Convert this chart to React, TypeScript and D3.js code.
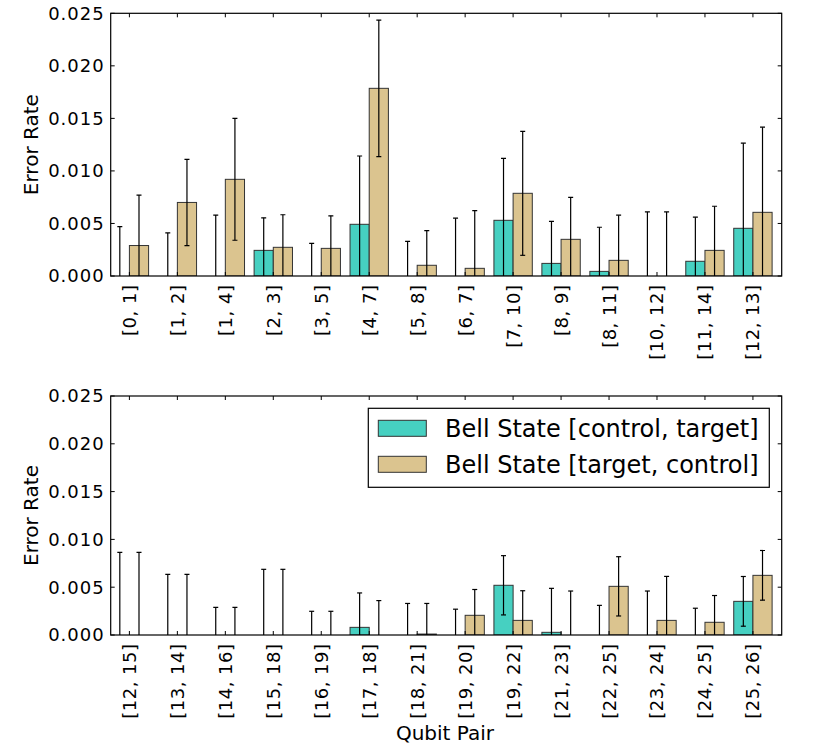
import * as d3 from "d3";

// qubit pairs, top and bottom panel
const pairsTop = ["[0, 1]", "[1, 2]", "[1, 4]", "[2, 3]", "[3, 5]", "[4, 7]", "[5, 8]", "[6, 7]", "[7, 10]", "[8, 9]", "[8, 11]", "[10, 12]", "[11, 14]", "[12, 13]"];
const ctTop = [0, 0, 0, 0.00244, 0, 0.00492, 0, 0, 0.0053, 0.0012, 0.00044, 0, 0.0014, 0.00454];
const ctErrTop = [0.0047, 0.0041, 0.0058, 0.0031, 0.0031, 0.0065, 0.0033, 0.0055, 0.0059, 0.004, 0.0042, 0.0061, 0.0042, 0.0081];
const tcTop = [0.0029, 0.007, 0.0092, 0.00273, 0.00263, 0.01786, 0.00102, 0.00073, 0.00787, 0.00349, 0.00149, 0, 0.00244, 0.00606];
const tcErrTop = [0.0048, 0.0041, 0.0058, 0.0031, 0.0031, 0.0065, 0.0033, 0.0055, 0.0059, 0.004, 0.0043, 0.0061, 0.0042, 0.0081];

const pairsBot = ["[12, 15]", "[13, 14]", "[14, 16]", "[15, 18]", "[16, 19]", "[17, 18]", "[18, 21]", "[19, 20]", "[19, 22]", "[21, 23]", "[22, 25]", "[23, 24]", "[24, 25]", "[25, 26]"];
const ctBot = [0, 0, 0, 0, 0, 0.0008, 0, 0, 0.0052, 0.00028, 0, 0, 0, 0.00352];
const ctErrBot = [0.00865, 0.00635, 0.00289, 0.00687, 0.00248, 0.0036, 0.0033, 0.0027, 0.0031, 0.0046, 0.0031, 0.0046, 0.0028, 0.0026];
const tcBot = [0, 0, 0, 0, 0, 0, 0.0001, 0.00206, 0.00153, 0, 0.00509, 0.00153, 0.00133, 0.00624];
const tcErrBot = [0.00865, 0.00635, 0.00289, 0.00687, 0.00248, 0.0036, 0.0032, 0.0027, 0.0031, 0.0046, 0.0031, 0.0046, 0.0028, 0.0026];

const yTicks = [0, 0.005, 0.01, 0.015, 0.02, 0.025];
const seriesNames = ["Bell State [control, target]", "Bell State [target, control]"];

const TEAL = "#46d0c1";
const TAN = "#dbc48f";
const FONT = "DejaVu Sans, sans-serif";
const BAR_W = 0.4;

interface PanelProps {
  id: string;
  top: number;
  bottom: number;
  pairs: string[];
  ct: number[];
  ctErr: number[];
  tc: number[];
  tcErr: number[];
  legend?: boolean;
}

function Panel({ id, top, bottom, pairs, ct, ctErr, tc, tcErr, legend }: PanelProps) {
  const left = 110.7;
  const right = 781.7;
  const x = d3.scaleLinear().domain([-0.39, 13.6]).range([left, right]);
  const y = d3.scaleLinear().domain([0, 0.025]).range([bottom, top]);
  const fmt = d3.format(".3f");

  const series = [
    { vals: ct, errs: ctErr, off: -BAR_W, color: TEAL },
    { vals: tc, errs: tcErr, off: 0, color: TAN },
  ];

  return (
    <g>
      <defs>
        <clipPath id={id}>
          <rect x={left} y={top} width={right - left} height={bottom - top} />
        </clipPath>
      </defs>
      <g clipPath={`url(#${id})`}>
        {series.map((s, k) =>
          pairs.map((_, i) => (
            <rect
              key={`b${k}-${i}`}
              x={x(i + s.off)}
              y={y(s.vals[i])}
              width={x(BAR_W) - x(0)}
              height={y(0) - y(s.vals[i])}
              fill={s.color}
              stroke="#333"
              strokeWidth={1}
            />
          ))
        )}
        {series.map((s, k) =>
          pairs.map((_, i) => {
            const cx = x(i + s.off + BAR_W / 2);
            const hi = y(s.vals[i] + s.errs[i]);
            const lo = y(s.vals[i] - s.errs[i]);
            return (
              <g key={`e${k}-${i}`} stroke="#000" strokeWidth={1.2}>
                <line x1={cx} x2={cx} y1={hi} y2={lo} />
                <line x1={cx - 2.5} x2={cx + 2.5} y1={hi} y2={hi} />
                <line x1={cx - 2.5} x2={cx + 2.5} y1={lo} y2={lo} />
              </g>
            );
          })
        )}
      </g>
      {/* inward ticks on all four sides */}
      {pairs.map((_, i) => (
        <g key={`xt${i}`} stroke="#000" strokeWidth={1}>
          <line x1={x(i)} x2={x(i)} y1={bottom} y2={bottom - 4} />
          <line x1={x(i)} x2={x(i)} y1={top} y2={top + 4} />
        </g>
      ))}
      {yTicks.map((t) => (
        <g key={`yt${t}`}>
          <line x1={left} x2={left + 4} y1={y(t)} y2={y(t)} stroke="#000" />
          <line x1={right} x2={right - 4} y1={y(t)} y2={y(t)} stroke="#000" />
          <text x={left - 6} y={y(t)} dy="0.36em" textAnchor="end" fontSize={18} letterSpacing={1} fontFamily={FONT}>
            {fmt(t)}
          </text>
        </g>
      ))}
      <rect x={left} y={top} width={right - left} height={bottom - top} fill="none" stroke="#000" strokeWidth={1.2} />
      {pairs.map((p, i) => (
        <text
          key={`xl${i}`}
          transform={`translate(${x(i)},${bottom + 8.5}) rotate(-90)`}
          dy="0.36em"
          textAnchor="end"
          fontSize={18}
          letterSpacing={0.5}
          fontFamily={FONT}
        >
          {p}
        </text>
      ))}
      <text
        transform={`translate(31,${(top + bottom) / 2}) rotate(-90)`}
        dy="0.36em"
        textAnchor="middle"
        fontSize={20}
        fontFamily={FONT}
      >
        Error Rate
      </text>
      {legend && (
        <g>
          <rect x={368.3} y={408.3} width={401} height={79} fill="#fff" stroke="#000" strokeWidth={1.2} />
          {seriesNames.map((name, k) => (
            <g key={name}>
              <rect x={378.3} y={420.3 + k * 36} width={48} height={16} fill={k === 0 ? TEAL : TAN} stroke="#333" />
              <text x={445} y={428.3 + k * 36} dy="0.36em" fontSize={24} fontFamily={FONT}>
                {name}
              </text>
            </g>
          ))}
        </g>
      )}
    </g>
  );
}

export default function App() {
  return (
    <svg width={816} height={750} style={{ position: "absolute", left: 0, top: 0, background: "#fff" }}>
      <Panel id="clipTop" top={13.3} bottom={276} pairs={pairsTop} ct={ctTop} ctErr={ctErrTop} tc={tcTop} tcErr={tcErrTop} />
      <Panel id="clipBot" top={396} bottom={635} pairs={pairsBot} ct={ctBot} ctErr={ctErrBot} tc={tcBot} tcErr={tcErrBot} legend />
      <text x={445} y={733} dy="0.36em" textAnchor="middle" fontSize={20} fontFamily={FONT}>
        Qubit Pair
      </text>
    </svg>
  );
}
